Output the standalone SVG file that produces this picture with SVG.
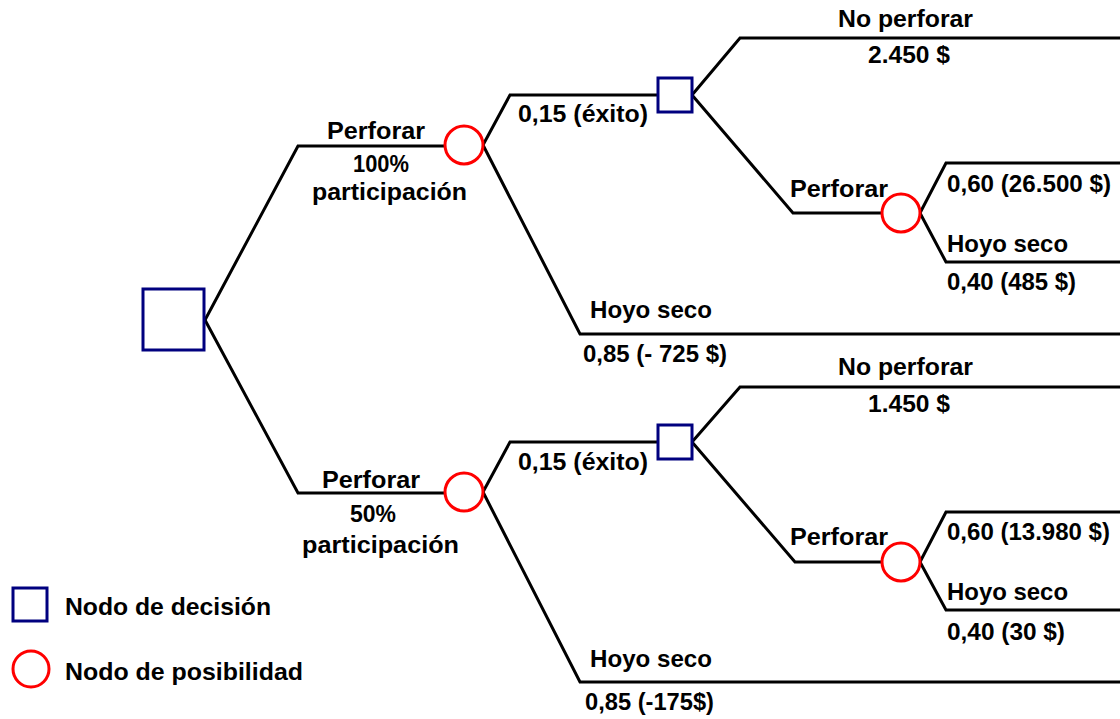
<svg xmlns="http://www.w3.org/2000/svg" width="1120" height="719" viewBox="0 0 1120 719">
<style>
.ln{fill:none;stroke:#000;stroke-width:3;stroke-linejoin:miter}
.dec{fill:#fff;stroke:#00007f;stroke-width:3}
.chc{fill:#fff;stroke:#ff0000;stroke-width:3}
text{font-family:"Liberation Sans",Arial,sans-serif;font-weight:bold;font-size:24px;fill:#000}
</style>
<rect width="1120" height="719" fill="#fff"/>
<g id="connectors">
<polyline class="ln" points="205,320 298,146 445,146"/>
<polyline class="ln" points="205,320 298,493 445,493"/>
<polyline class="ln" points="483,145 510,95 657,95"/>
<polyline class="ln" points="483,145 580,334 1120,334"/>
<polyline class="ln" points="692,95 740,38 1120,38"/>
<polyline class="ln" points="692,95 793,213 882,213"/>
<polyline class="ln" points="920,213 946,163 1120,163"/>
<polyline class="ln" points="920,213 946,262 1120,262"/>
<polyline class="ln" points="483,492 510,442 657,442"/>
<polyline class="ln" points="483,492 580,682 1120,682"/>
<polyline class="ln" points="692,442 740,387 1120,387"/>
<polyline class="ln" points="692,442 795,562 882,562"/>
<polyline class="ln" points="920,562 946,512 1120,512"/>
<polyline class="ln" points="920,562 946,610 1120,610"/>
</g>
<g id="root"><rect class="dec" x="143" y="289" width="61" height="61"/></g>
<g id="chance1"><circle class="chc" cx="464" cy="145" r="19"/></g>
<g id="decision1"><rect class="dec" x="658" y="78" width="34" height="34"/></g>
<g id="chance1b"><circle class="chc" cx="901" cy="213" r="19"/></g>
<g id="chance2"><circle class="chc" cx="464" cy="492" r="19"/></g>
<g id="decision2"><rect class="dec" x="658" y="425" width="34" height="34"/></g>
<g id="chance2b"><circle class="chc" cx="901" cy="562" r="19"/></g>
<g id="labels">
<text x="327" y="139" textLength="98" lengthAdjust="spacingAndGlyphs">Perforar</text>
<text x="353" y="172" textLength="56" lengthAdjust="spacingAndGlyphs">100%</text>
<text x="312" y="200" textLength="155" lengthAdjust="spacingAndGlyphs">participación</text>
<text x="518" y="122" textLength="130" lengthAdjust="spacingAndGlyphs">0,15 (éxito)</text>
<text x="838" y="27" textLength="135" lengthAdjust="spacingAndGlyphs">No perforar</text>
<text x="868" y="63" textLength="82" lengthAdjust="spacingAndGlyphs">2.450 $</text>
<text x="790" y="197" textLength="98" lengthAdjust="spacingAndGlyphs">Perforar</text>
<text x="947" y="192" textLength="164" lengthAdjust="spacingAndGlyphs">0,60 (26.500 $)</text>
<text x="947" y="252" textLength="121" lengthAdjust="spacingAndGlyphs">Hoyo seco</text>
<text x="947" y="290" textLength="129" lengthAdjust="spacingAndGlyphs">0,40 (485 $)</text>
<text x="590" y="318" textLength="122" lengthAdjust="spacingAndGlyphs">Hoyo seco</text>
<text x="583" y="362" textLength="144" lengthAdjust="spacingAndGlyphs">0,85 (- 725 $)</text>
<text x="322" y="488" textLength="98" lengthAdjust="spacingAndGlyphs">Perforar</text>
<text x="350" y="522" textLength="46" lengthAdjust="spacingAndGlyphs">50%</text>
<text x="302" y="553" textLength="157" lengthAdjust="spacingAndGlyphs">participación</text>
<text x="518" y="470" textLength="130" lengthAdjust="spacingAndGlyphs">0,15 (éxito)</text>
<text x="838" y="375" textLength="135" lengthAdjust="spacingAndGlyphs">No perforar</text>
<text x="868" y="412" textLength="82" lengthAdjust="spacingAndGlyphs">1.450 $</text>
<text x="790" y="545" textLength="98" lengthAdjust="spacingAndGlyphs">Perforar</text>
<text x="947" y="540" textLength="163" lengthAdjust="spacingAndGlyphs">0,60 (13.980 $)</text>
<text x="947" y="600" textLength="121" lengthAdjust="spacingAndGlyphs">Hoyo seco</text>
<text x="947" y="640" textLength="118" lengthAdjust="spacingAndGlyphs">0,40 (30 $)</text>
<text x="590" y="667" textLength="122" lengthAdjust="spacingAndGlyphs">Hoyo seco</text>
<text x="585" y="710" textLength="129" lengthAdjust="spacingAndGlyphs">0,85 (-175$)</text>
</g>
<g id="legend">
<rect class="dec" x="13" y="588" width="34" height="33"/>
<text x="65" y="615" textLength="206" lengthAdjust="spacingAndGlyphs">Nodo de decisión</text>
<circle class="chc" cx="31" cy="669" r="18"/>
<text x="65" y="680" textLength="238" lengthAdjust="spacingAndGlyphs">Nodo de posibilidad</text>
</g>
</svg>
